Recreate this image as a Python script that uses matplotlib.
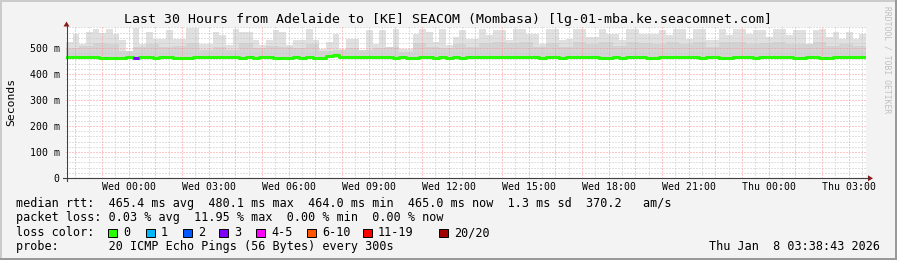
import numpy as np
import matplotlib
matplotlib.use('Agg')
import matplotlib.pyplot as plt
from matplotlib.patches import Rectangle, Polygon
from matplotlib.lines import Line2D

W, H = 897, 260
MONO = 'DejaVu Sans Mono'

# graph starts Tue 21:38:43, time in hours from there
t_first_label = 2 + 21 / 60 + 17 / 3600
tick_labels = ['Wed 00:00', 'Wed 03:00', 'Wed 06:00', 'Wed 09:00', 'Wed 12:00',
               'Wed 15:00', 'Wed 18:00', 'Wed 21:00', 'Thu 00:00', 'Thu 03:00']

# smoke top (ms), 15 minute steps
smoke_max = [525, 556, 518, 563, 575, 560, 575, 556, 531, 470,
             579, 518, 563, 537, 537, 569, 537, 537, 579, 579,
             518, 518, 563, 550, 511, 575, 563, 563, 531, 511,
             531, 569, 563, 511, 531, 531, 575, 531, 498, 525,
             556, 498, 537, 537, 492, 569, 518, 569, 505, 575,
             498, 498, 556, 575, 563, 525, 575, 511, 544, 569,
             537, 537, 575, 550, 569, 569, 531, 575, 575, 556,
             556, 518, 575, 575, 531, 537, 575, 575, 544, 544,
             575, 556, 556, 531, 575, 575, 556, 556, 556, 569,
             550, 575, 575, 537, 575, 575, 531, 531, 575, 550,
             575, 575, 556, 569, 569, 544, 575, 575, 550, 569,
             569, 518, 569, 575, 544, 563, 537, 563, 537, 556]

# darker middle part of the smoke (ms), 30 minute steps
smoke_mid = [500, 510, 520, 515, 490, 505, 515, 505, 510, 520,
             495, 505, 495, 520, 500, 510, 505, 500, 515, 490,
             495, 500, 495, 500, 505, 485, 520, 505, 500, 515,
             505, 520, 525, 520, 525, 505, 520, 505, 525, 515,
             525, 510, 525, 520, 515, 525, 515, 525, 505, 525,
             525, 515, 520, 525, 515, 515, 525, 510, 515, 510]

# median rtt (ms), 15 minute steps
median = [466, 466, 466, 466, 466, 463, 463, 463, 463, 466,
          463, 466, 466, 463, 466, 466, 463, 463, 463, 466,
          466, 466, 466, 466, 466, 466, 463, 466, 463, 466,
          466, 463, 463, 463, 466, 463, 466, 463, 463, 469,
          474, 466, 466, 466, 466, 466, 466, 466, 466, 463,
          466, 463, 463, 466, 466, 463, 466, 463, 466, 463,
          466, 466, 466, 466, 466, 466, 466, 466, 466, 466,
          466, 463, 466, 466, 463, 466, 466, 466, 466, 466,
          463, 463, 466, 463, 466, 466, 466, 463, 463, 466,
          466, 466, 466, 466, 466, 463, 466, 466, 463, 463,
          466, 466, 466, 463, 466, 466, 466, 466, 466, 463,
          463, 466, 466, 463, 463, 466, 466, 466, 466, 466]

loss_bins = [10]
loss_counts = [3]

loss_names = ['0', '1', '2', '3', '4-5', '6-10', '11-19', '20/20']
loss_colors = ['#26ff00', '#00b8ff', '#0059ff', '#7e00ff', '#ff00ff',
               '#ff5500', '#ff0000', '#a00000']


def fx(x):
    return x / W


def fy(y):
    return 1 - y / H


fig = plt.figure(figsize=(W / 100, H / 100), dpi=100, facecolor='#f3f3f3')

# plot area: x 66..866, y 178 (0 ms) .. 26.7 (583 ms)
ax = fig.add_axes([fx(66), fy(178), 800 / W, (178 - 26.7) / H])
ax.set_facecolor('white')
for s in ax.spines.values():
    s.set_visible(False)

step15 = np.arange(len(smoke_max) + 1) * 0.25
step30 = np.arange(len(smoke_mid) + 1) * 0.5
med = np.array(median, dtype=float)
ax.fill_between(step15, np.append(med, med[-1]), smoke_max + [smoke_max[-1]],
                step='post', color='#e0e0e0', lw=0, zorder=1)
ax.fill_between(step30, 462, smoke_mid + [smoke_mid[-1]],
                step='post', color='#d3d3d3', lw=0, zorder=1.2)

# grid
hours = np.arange(0.3547, 30, 1.0)
for h in hours:
    ax.axvline(h, color='#ff8f8f', lw=0.72, ls=(0, (1, 2)), zorder=2)
    if h + 0.5 < 30:
        ax.axvline(h + 0.5, color='#c4c4c4', lw=0.72, ls=(0, (1, 2)), zorder=2)
for v in range(20, 583, 20):
    if v % 100 == 0:
        ax.axhline(v, color='#ff8f8f', lw=0.72, ls=(0, (1, 2)), zorder=2)
    else:
        ax.axhline(v, color='#c4c4c4', lw=0.72, ls=(0, (1, 2)), zorder=2)

# median line
ax.step(step15, np.append(med, med[-1]), where='post', color=loss_colors[0],
        lw=2.2, zorder=4)
for b, c in zip(loss_bins, loss_counts):
    ax.plot([step15[b], step15[b + 1]], [median[b], median[b]],
            color=loss_colors[c], lw=2.2, zorder=5, solid_capstyle='butt')

ax.set_xlim(0, 30)
ax.set_ylim(0, 583)
ax.set_xticks([t_first_label + 3 * k for k in range(len(tick_labels))])
ax.set_xticklabels(tick_labels, family=MONO, fontsize=7.1)
ax.set_yticks([0, 100, 200, 300, 400, 500])
ax.set_yticklabels(['0', '100 m', '200 m', '300 m', '400 m', '500 m'],
                   family=MONO, fontsize=7.1)
ax.tick_params(axis='x', length=0, pad=3)
ax.tick_params(axis='y', length=0, pad=4.5)

# axes with arrows
axis_c = '#404040'
fig.add_artist(Line2D([fx(66.5), fx(66.5)], [fy(181), fy(26)], color=axis_c, lw=0.8))
fig.add_artist(Line2D([fx(63), fx(868)], [fy(178.3), fy(178.3)], color=axis_c, lw=0.8))
fig.add_artist(Polygon([[fx(63.5), fy(26.5)], [fx(69.5), fy(26.5)], [fx(66.5), fy(21.5)]],
                       closed=True, color='#8b1a1a', lw=0))
fig.add_artist(Polygon([[fx(868), fy(175.3)], [fx(868), fy(181.3)], [fx(873), fy(178.3)]],
                       closed=True, color='#8b1a1a', lw=0))

# texts
fig.text(fx(448), fy(19), 'Last 30 Hours from Adelaide to [KE] SEACOM (Mombasa) '
         '[lg-01-mba.ke.seacomnet.com]', family=MONO, fontsize=9.5,
         ha='center', va='center')
fig.text(fx(11), fy(102), 'Seconds', family=MONO, fontsize=8.2, rotation=90,
         ha='center', va='center')
fig.text(fx(887), fy(6), 'RRDTOOL / TOBI OETIKER', family=MONO, fontsize=5.8,
         rotation=270, ha='center', va='top', color='#c0c0c0')

leg = dict(family=MONO, fontsize=8.5, va='center', ha='left')
fig.text(fx(16), fy(204), 'median rtt:  465.4 ms avg  480.1 ms max  464.0 ms min'
         '  465.0 ms now  1.3 ms sd  370.2   am/s', **leg)
fig.text(fx(16), fy(218), 'packet loss: 0.03 % avg  11.95 % max  0.00 % min  0.00 % now', **leg)
fig.text(fx(16), fy(232.5), 'loss color:', **leg)
fig.text(fx(16), fy(246.5), 'probe:       20 ICMP Echo Pings (56 Bytes) every 300s', **leg)
fig.text(fx(880), fy(246.5), 'Thu Jan  8 03:38:43 2026', family=MONO, fontsize=8.5,
         va='center', ha='right')

label_x = [123, 161, 198, 234, 271, 322, 378, 454]
for lx, name, col in zip(label_x, loss_names, loss_colors):
    fig.add_artist(Rectangle((fx(lx - 15), fy(237)), 8.5 / W, 8.5 / H,
                             facecolor=col, edgecolor='black', lw=0.7))
    fig.text(fx(lx), fy(232.5), name, **leg)

# 3d frame
fig.add_artist(Rectangle((0, 0), 2 / W, 1, color='#cbcbcb', lw=0))
fig.add_artist(Rectangle((0, 1 - 2 / H), 1, 2 / H, color='#cbcbcb', lw=0))
fig.add_artist(Rectangle((1 - 2 / W, 0), 2 / W, 1, color='#999999', lw=0))
fig.add_artist(Rectangle((0, 0), 1, 2 / H, color='#999999', lw=0))

fig.savefig('out.png', dpi=100, facecolor=fig.get_facecolor())
